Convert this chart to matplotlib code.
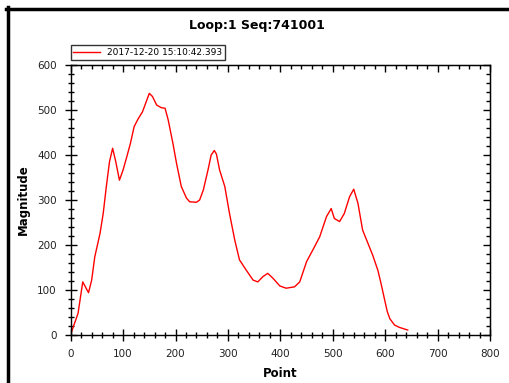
import numpy as np
import matplotlib.pyplot as plt
from matplotlib.lines import Line2D
from matplotlib.ticker import MultipleLocator

plt.rcParams['font.family'] = ['DejaVu Sans']

# trace
point = [2, 4, 14, 23, 34, 40, 46, 56, 62, 68, 74, 80, 86, 93, 100, 107, 114, 121,
         129, 137, 143, 150, 156, 164, 173, 180, 186, 195, 202, 211, 221, 227, 240,
         246, 253, 262, 268, 274, 278, 284, 294, 303, 313, 322, 335, 348, 357, 367,
         376, 386, 399, 411, 427, 437, 450, 462, 475, 488, 497, 503, 513, 522, 532,
         540, 548, 557, 567, 576, 586, 592, 599, 604, 609, 618, 627, 643]
magnitude = [8, 15, 48, 118, 94, 122, 174, 226, 270, 330, 385, 415, 385, 344, 367,
             396, 426, 463, 481, 496, 515, 537, 530, 511, 505, 504, 478, 426, 381,
             330, 304, 296, 295, 300, 322, 367, 400, 410, 402, 367, 330, 270, 211,
             167, 144, 122, 118, 130, 137, 126, 109, 104, 107, 118, 163, 189, 218,
             263, 281, 259, 252, 270, 307, 324, 293, 233, 204, 178, 144, 115, 78,
             52, 36, 22, 17, 11]
series_label = '2017-12-20 15:10:42.393'
title = 'Loop:1 Seq:741001'

fig = plt.figure(figsize=(5.09, 3.83), dpi=100)
ax = fig.add_axes([70.7/509, 48/383, (490-70.7)/509, 270/383])

ax.plot(point, magnitude, color='#ff0000', lw=1.0, label=series_label)
ax.set_xlim(0, 800)
ax.set_ylim(0, 600)

def set_ticks(axis):
    axis.set_major_locator(MultipleLocator(100))
    axis.set_minor_locator(MultipleLocator(20))

set_ticks(ax.xaxis)
set_ticks(ax.yaxis)
ax.tick_params(which='both', labelsize=7.5, width=1.0, labelcolor='#222222')
ax.tick_params(which='major', direction='inout', length=8, pad=6)
ax.tick_params(which='minor', direction='inout', length=5)

# top / right ticks point inward only
top = ax.secondary_xaxis('top')
right = ax.secondary_yaxis('right')
set_ticks(top.xaxis)
set_ticks(right.yaxis)
for sec in (top, right):
    sec.tick_params(which='major', direction='in', length=5, width=1.0,
                    labelleft=False, labelright=False, labeltop=False)
    sec.tick_params(which='minor', direction='in', length=3, width=1.0)
for s in ax.spines.values():
    s.set_linewidth(1.0)

ax.set_xlabel('Point', fontsize=8.5, fontweight='bold', labelpad=6)
ax.set_ylabel('Magnitude', fontsize=8.5, fontweight='bold', labelpad=5)
fig.text(0.505, 1 - 25/383, title, ha='center', va='center', fontsize=9,
         fontweight='bold')

leg = ax.legend(loc='lower left', bbox_to_anchor=(0, 1.02), fontsize=6.5,
                frameon=True, fancybox=False, borderpad=0.3, handlelength=3.0,
                handletextpad=0.7, borderaxespad=0, edgecolor='black')
leg.get_frame().set_linewidth(1.0)

# window frame (left and top edges)
fig.add_artist(Line2D([7.5/509, 7.5/509], [0, 1 - 7/383], color='black', lw=2.5,
                      transform=fig.transFigure))
fig.add_artist(Line2D([6.3/509, 1], [1 - 8.5/383, 1 - 8.5/383], color='black', lw=2.5,
                      transform=fig.transFigure))

fig.savefig('out.png', dpi=100)
